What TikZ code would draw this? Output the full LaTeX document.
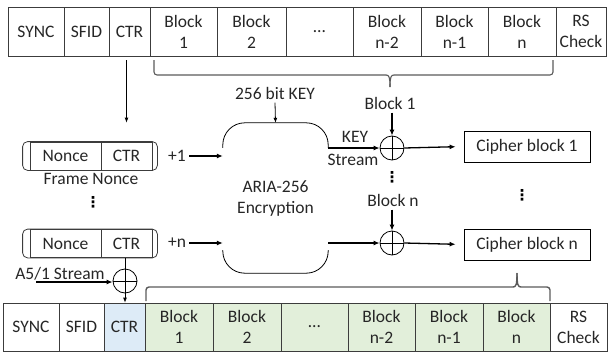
\documentclass[tikz,border=0pt]{standalone}
\usepackage{fontspec}
\setmainfont{Carlito}
\newfontfamily\symfont{DejaVu Sans}
\usetikzlibrary{arrows.meta,calc}
\definecolor{txt}{HTML}{262626}
\definecolor{edge}{HTML}{3C3C3C}
\definecolor{grn}{HTML}{E2EFDA}
\definecolor{blu}{HTML}{DDEBF7}
\definecolor{brc}{HTML}{5A5A5A}
\begin{document}
\begin{tikzpicture}[x=1pt,y=-1pt,
  every node/.style={font=\fontsize{17.5}{21}\selectfont, text=txt},
  cell/.style={draw=edge, line width=0.8pt, align=center, inner sep=0pt, minimum height=49pt},
  bcell/.style={cell, minimum height=48pt},
  ncell/.style={draw=edge, line width=0.8pt, inner sep=0pt, minimum height=28pt},
  cbox/.style={draw=black, line width=0.8pt, inner sep=0pt, minimum width=126pt, minimum height=31pt},
  xor/.style={circle, draw=black, line width=0.8pt, minimum size=24pt, inner sep=0pt,
    path picture={\draw[line width=0.7pt] (path picture bounding box.north) -- (path picture bounding box.south)
      (path picture bounding box.west) -- (path picture bounding box.east);}},
  arr/.style={-{Latex[length=6pt,width=5pt]}, line width=1.3pt, draw=black},
  arrthin/.style={-{Latex[length=5pt,width=4pt]}, line width=0.8pt, draw=black},
  brace/.style={draw=brc, line width=1.1pt},
  dotsnode/.style={font=\symfont\bfseries\fontsize{15}{15}\selectfont, inner sep=0pt, text=black}
]
\useasboundingbox (0,0) rectangle (609,353);

% top frame
\node[cell, minimum width=56pt] (tsync) at (36,31.5) {SYNC};
\node[cell, minimum width=45pt] (tsfid) at (86.5,31.5) {SFID};
\node[cell, minimum width=41pt] (tctr) at (129.5,31.5) {CTR};
\node[cell, minimum width=67pt] (tb1) at (183.5,31.5) {Block\\1};
\node[cell, minimum width=69pt] (tb2) at (251.5,31.5) {Block\\2};
\node[cell, minimum width=67pt] (tdots) at (319.5,31.5) {…};
\node[cell, minimum width=68pt] (tbn2) at (387,31.5) {Block\\n-2};
\node[cell, minimum width=67pt] (tbn1) at (454.5,31.5) {Block\\n-1};
\node[cell, minimum width=68pt] (tbn) at (522,31.5) {Block\\n};
\node[cell, minimum width=50pt] (trs) at (581,31.5) {RS\\Check};

% top brace
\draw[brace, rounded corners=3pt] (154,60) |- (386,75);
\draw[brace] (386,75) .. controls (389,75) and (390,77) .. (390,87);
\draw[brace] (394,75) .. controls (391,75) and (390,77) .. (390,87);
\draw[brace, rounded corners=3pt] (394,75) -| (553,60);

% nonce boxes
\node[ncell, minimum width=71pt] (n1nonce) at (65.5,156) {Nonce};
\node[ncell, minimum width=51pt] (n1ctr) at (126.5,156) {CTR};
\draw[draw=edge, line width=0.8pt, rounded corners=5pt] ($(n1nonce.north west)+(-7,0)$) rectangle ($(n1ctr.south east)+(5,0)$);
\node (fn) at (91,179) {Frame Nonce};
\node[dotsnode] (dots1) at (93,202) {⋮};

\node[ncell, minimum width=71pt] (n2nonce) at (65.5,243.5) {Nonce};
\node[ncell, minimum width=51pt] (n2ctr) at (126.5,243.5) {CTR};
\draw[draw=edge, line width=0.8pt, rounded corners=5pt] ($(n2nonce.north west)+(-7,0)$) rectangle ($(n2ctr.south east)+(5,0)$);

\draw[arrthin, shorten <=4pt, shorten >=19pt] (n1ctr.north |- tctr.south) -- (n1ctr.north);

% ARIA block
\node[minimum width=105pt, minimum height=150pt, align=center, inner sep=0pt] (aria) at (275.5,198) {ARIA-256\\Encryption};
\draw[line width=0.8pt, rounded corners=22pt] ([yshift=-25pt]aria.north west) -- (aria.north west) -- (aria.north east) -- ([yshift=-25pt]aria.north east);
\draw[line width=0.8pt, rounded corners=22pt] ([yshift=23pt]aria.south west) -- (aria.south west) -- (aria.south east) -- ([yshift=23pt]aria.south east);

\node (key) at (275,93) {256 bit KEY};
\draw[arrthin] (key.south) -- (aria.north);

\node (plus1) at (177,156) {+1};
\draw[arr] (plus1.east) -- (aria.west |- plus1.east);
\node (plusn) at (177,243) {+n};
\draw[arr] (plusn.east) -- (aria.west |- plusn.east);

% XORs
\node[xor] (circ1) at (392,148) {};
\node[xor] (circn) at (392,243) {};
\node[xor] (circa) at (125,281) {};

\node (blk1) at (390,103) {Block 1};
\draw[arr] (blk1.south -| circ1) -- (circ1.north);
\node (kst1) at (355,137) {KEY};
\node (kst2) at (353,160) {Stream};
\draw[arr] (aria.east |- circ1) -- (circ1.west);
\node[dotsnode] (dots2) at (392,177) {⋮};

\node (blkn) at (393,200) {Block n};
\draw[arr] (blkn.south -| circn) -- (circn.north);
\draw[arr] (aria.east |- circn) -- (circn.west);

\node[cbox] (ciph1) at (527,146.5) {Cipher block 1};
\node[cbox] (ciphn) at (527,244.5) {Cipher block n};
\draw[arr, shorten >=8pt] (circ1.east) -- (ciph1.west);
\draw[arr, shorten >=8pt] (circn.east) -- (ciphn.west);
\node[dotsnode] (dots3) at (522,195) {⋮};

% A5/1
\node (a5) at (60,274) {A5/1 Stream};
\coordinate (a5s) at (36,282);
\draw[arr] (a5s) -- (a5s -| circa.west);
\draw[line width=0.8pt] (circa.north |- n2ctr.south) -- (circa.north);

% bottom frame
\node[bcell, minimum width=56pt] (bsync) at (31,327) {SYNC};
\node[bcell, minimum width=45pt] (bsfid) at (81.5,327) {SFID};
\node[bcell, minimum width=41pt, fill=blu] (bctr) at (124.5,327) {CTR};
\node[bcell, minimum width=68pt, fill=grn] (bb1) at (179,327) {Block\\1};
\node[bcell, minimum width=68pt, fill=grn] (bb2) at (247,327) {Block\\2};
\node[bcell, minimum width=67pt, fill=grn] (bdots) at (314.5,327) {…};
\node[bcell, minimum width=67pt, fill=grn] (bbn2) at (381.5,327) {Block\\n-2};
\node[bcell, minimum width=68pt, fill=grn] (bbn1) at (449,327) {Block\\n-1};
\node[bcell, minimum width=67pt, fill=grn] (bbn) at (516.5,327) {Block\\n};
\node[bcell, minimum width=57pt] (brs) at (578.5,327) {RS\\Check};

\draw[arrthin] (circa.south) -- (circa.south |- bctr.north);

% bottom brace
\draw[brace, line width=1.4pt, rounded corners=3pt] (146,301) |- (513,287);
\draw[brace, line width=1.4pt] (513,287) .. controls (516,287) and (517,285) .. (517,273);
\draw[brace, line width=1.4pt] (521,287) .. controls (518,287) and (517,285) .. (517,273);
\draw[brace, line width=1.4pt, rounded corners=3pt] (521,287) -| (550,301);
\end{tikzpicture}
\end{document}
